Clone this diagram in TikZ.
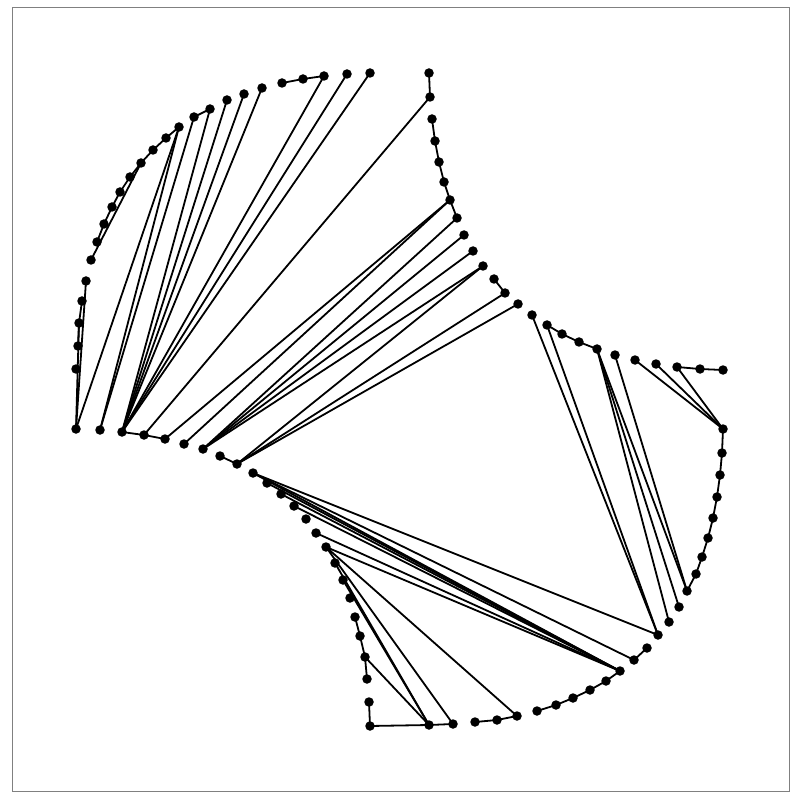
\documentclass[tikz,border=0pt]{standalone}
\begin{document}
\begin{tikzpicture}[x=1pt,y=-1pt,
  dot/.style={circle,fill=black,inner sep=0pt,minimum size=9.5pt},
  edge/.style={line width=1.8pt,black}]
\useasboundingbox (0,0) rectangle (800,799);
\draw[gray,line width=1pt] (12,8) rectangle (789,791);
\foreach \n/\x/\y in {A1/370/73,A2/347/74,A3/324/76,A4/303/79,A5/282/83,A6/262/88,A7/244/94,A8/227/100,A9/210/109,A10/194/117,A11/179/127,A12/166/138,A13/153/150,A14/141/163,A15/130/177,A16/120/192,A17/112/207,A18/104/224,A19/97/242,A20/91/260,A21/86/281,A22/82/301,A23/79/323,A24/78/346,A25/76/369,A26/76/429,
B1/100/430,B2/122/432,B3/144/435,B4/165/439,B5/184/444,B6/203/449,B7/220/456,B8/237/464,B9/253/473,B10/267/483,B11/281/494,B12/294/506,B13/306/519,B14/316/533,B15/326/547,B16/335/563,B17/343/580,B18/350/598,B19/355/617,B20/360/636,B21/365/657,B22/367/679,B23/369/702,B24/370/726,
C1/429/725,C2/453/724,C3/475/722,C4/497/720,C5/517/716,C6/537/711,C7/556/705,C8/573/698,C9/590/690,C10/606/681,C11/620/671,C12/634/660,C13/647/648,C14/658/635,C15/669/622,C16/679/607,C17/687/591,C18/696/574,C19/702/557,C20/708/538,C21/713/518,C22/717/497,C23/720/475,C24/722/453,C25/723/429,
D1/723/370,D2/700/369,D3/677/367,D4/656/364,D5/635/360,D6/615/355,D7/597/349,D8/579/342,D9/562/334,D10/547/325,D11/532/315,D12/518/304,D13/505/293,D14/494/279,D15/483/266,D16/473/251,D17/464/235,D18/457/218,D19/450/200,D20/444/182,D21/439/162,D22/435/141,D23/432/119,D24/430/97,D25/429/73}
  \coordinate (\n) at (\x,\y);
\foreach \a/\b in {D25/D24,D24/B3,D23/D22,D22/D21,D21/D20,D20/D19,D19/D18,D14/D13,D10/D9,D9/D8,D8/D7,D3/D2,D2/D1,
D5/C25,D4/C25,D3/C25,C25/C24,C24/C23,C23/C22,C22/C21,C21/C20,C20/C19,C19/C18,C18/C17,
D7/C15,D7/C16,D7/C17,D6/C17,D11/C14,D10/C14,C13/C12,C11/C10,C10/C9,C9/C8,C8/C7,C7/C6,C5/C4,C4/C3,C5/B15,
C1/C2,C1/B24,B24/B23,B22/B21,B21/B20,B20/B19,B21/C1,B16/C1,B17/C1,B15/C2,
A5/A4,A4/A3,A10/A9,A26/A21,A26/A11,B1/A11,B1/A10,B2/A9,B2/A8,B2/A7,B2/A6,B2/A3,B2/A2,B2/A1,B2/B3,B3/B4,
A11/A12,A12/A13,A13/A14,A14/A15,A15/A16,A16/A17,A17/A18,A18/A19,A20/A14,A22/A23,A23/A24,A26/A23,
B4/D19,B5/D19,B6/D15,B6/D16,B6/D17,B6/D18,B8/D12,B8/D13,B8/D15,B7/B8,
B9/C14,B9/C12,B9/C11,B10/C11,B11/C11,B12/C11,B14/C11,B15/C11}
  \draw[edge] (\a) -- (\b);
\foreach \n in {A1,A2,A3,A4,A5,A6,A7,A8,A9,A10,A11,A12,A13,A14,A15,A16,A17,A18,A19,A20,A21,A22,A23,A24,A25,A26,
B1,B2,B3,B4,B5,B6,B7,B8,B9,B10,B11,B12,B13,B14,B15,B16,B17,B18,B19,B20,B21,B22,B23,B24,
C1,C2,C3,C4,C5,C6,C7,C8,C9,C10,C11,C12,C13,C14,C15,C16,C17,C18,C19,C20,C21,C22,C23,C24,C25,
D1,D2,D3,D4,D5,D6,D7,D8,D9,D10,D11,D12,D13,D14,D15,D16,D17,D18,D19,D20,D21,D22,D23,D24,D25}
  \node[dot] (n\n) at (\n) {};
\end{tikzpicture}
\end{document}
